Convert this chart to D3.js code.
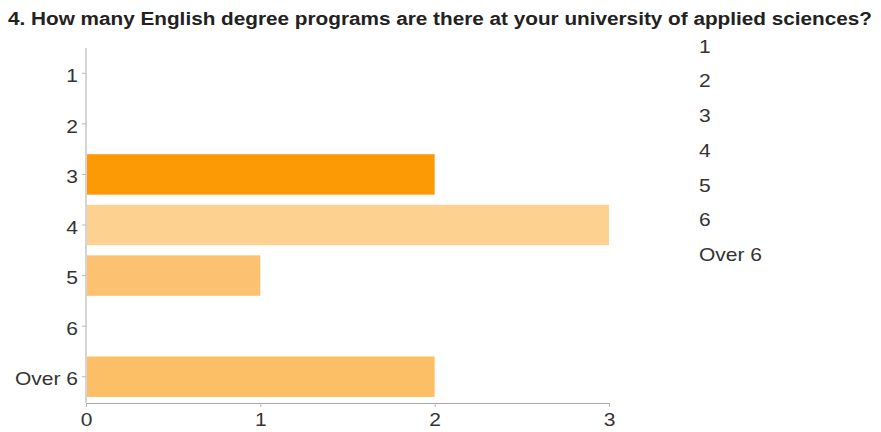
<!DOCTYPE html>
<html>
<head>
<meta charset="utf-8">
<script src="https://cdn.jsdelivr.net/npm/d3@7"></script>
<style>
  html, body { margin: 0; padding: 0; background: #fff; }
  svg { display: block; font-family: "Liberation Sans", Arial, sans-serif; }
</style>
</head>
<body>
<svg id="chart" width="881" height="432"></svg>
<script>
// Survey answers and response counts
const categories = ["1", "2", "3", "4", "5", "6", "Over 6"];
const counts = [0, 0, 2, 3, 1, 0, 2];
const barColors = ["#ffe0b0", "#ffd39b", "#fb9a05", "#fdd18f", "#fcc271", "#fdd8a3", "#fdbf66"];
const xTicks = [0, 1, 2, 3];
const title = "4. How many English degree programs are there at your university of applied sciences?";

const FONT = "'Liberation Sans', Arial, sans-serif";
const LABEL_SIZE = 17.5;
const STRETCH = 1.2; // labels are drawn slightly wide

const svg = d3.select("#chart");

const x = d3.scaleLinear().domain([0, 3]).range([86, 609]);
const y = d3.scaleBand().domain(categories).range([48, 402]).paddingInner(0.2).paddingOuter(0.1);

// Title
svg.append("text")
  .attr("x", 8).attr("y", 25)
  .attr("font-size", 17.5).attr("font-weight", "bold")
  .attr("fill", "#222")
  .attr("textLength", 864).attr("lengthAdjust", "spacingAndGlyphs")
  .text(title);

// Bars
svg.append("g").selectAll("rect")
  .data(categories.map((c, i) => ({ c, v: counts[i], color: barColors[i] })))
  .join("rect")
  .attr("x", x(0) + 1)
  .attr("y", d => y(d.c))
  .attr("width", d => Math.max(0, x(d.v) - x(0) - 1))
  .attr("height", y.bandwidth())
  .attr("fill", d => d.color);

// Y axis
const yAxis = svg.append("g")
  .attr("transform", `translate(${x(0)},0)`)
  .call(d3.axisLeft(y).tickSize(4).tickPadding(4).tickSizeOuter(0));
yAxis.select(".domain").attr("stroke", "#aaa").attr("d", "M0,48V403");
yAxis.selectAll(".tick line").attr("stroke", "#bbb");
yAxis.selectAll(".tick text")
  .attr("x", null).attr("dy", "0.5em")
  .attr("transform", `translate(-8,0) scale(${STRETCH},1)`)
  .attr("font-size", LABEL_SIZE).attr("fill", "#333")
  .attr("font-family", FONT);

// X axis
const xAxis = svg.append("g")
  .attr("transform", "translate(0,403)")
  .call(d3.axisBottom(x).tickValues(xTicks).tickFormat(d3.format("d")).tickSize(4).tickSizeOuter(0));
xAxis.select(".domain").attr("stroke", "#aaa");
xAxis.selectAll(".tick line").attr("stroke", "#bbb");
xAxis.selectAll(".tick text")
  .attr("y", null).attr("dy", null)
  .attr("transform", `translate(0,23) scale(${STRETCH},1)`)
  .attr("font-size", LABEL_SIZE).attr("fill", "#333")
  .attr("font-family", FONT);

// Legend (labels only)
const legend = svg.append("g");
legend.selectAll("text")
  .data(categories)
  .join("text")
  .attr("transform", (d, i) => `translate(699,${52.5 + i * 34.75}) scale(${STRETCH},1)`)
  .attr("font-size", LABEL_SIZE)
  .attr("fill", "#333")
  .attr("font-family", FONT)
  .text(d => d);
</script>
</body>
</html>
